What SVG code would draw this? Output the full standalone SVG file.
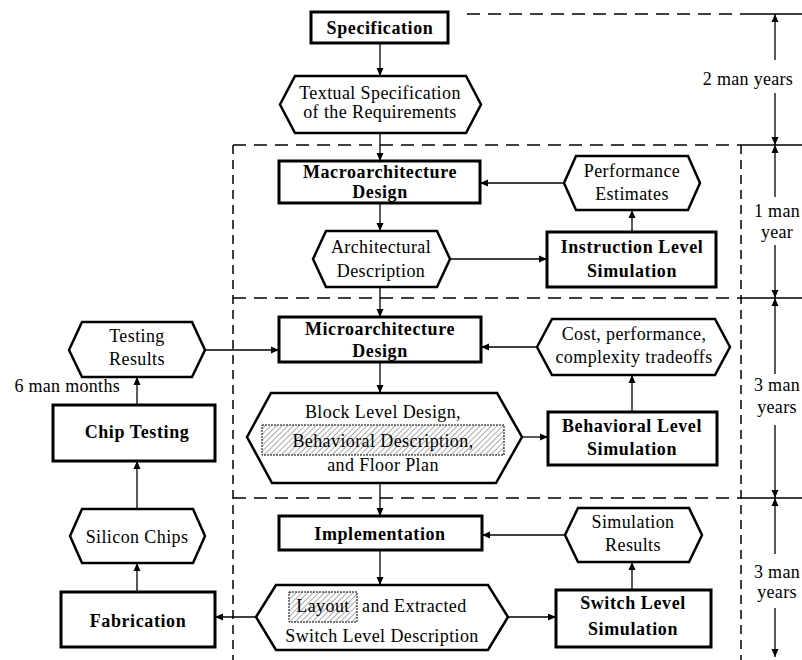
<svg xmlns="http://www.w3.org/2000/svg" width="802" height="660" viewBox="0 0 802 660">
<defs>
<marker id="ah" markerWidth="8" markerHeight="8" refX="8" refY="4" orient="auto" markerUnits="userSpaceOnUse"><path d="M0,0.5 L8,4 L0,7.5 Z" fill="#000"/></marker>
<pattern id="hatch" width="4" height="4" patternUnits="userSpaceOnUse" patternTransform="rotate(45)"><rect width="4" height="4" fill="#fff"/><line x1="0" y1="0" x2="0" y2="4" stroke="#555" stroke-width="1"/></pattern>
<style>
.box{fill:#fff;stroke:#000;stroke-width:3}
.hex{fill:#fff;stroke:#000;stroke-width:2.5;stroke-linejoin:miter}
.bt{font-family:"Liberation Serif","Times New Roman",serif;font-weight:bold;font-size:18px;letter-spacing:0.6px;text-anchor:middle;fill:#000}
.ht{font-family:"Liberation Serif","Times New Roman",serif;font-size:18px;letter-spacing:0.4px;text-anchor:middle;fill:#000}
.lt{font-family:"Liberation Serif","Times New Roman",serif;font-size:18px;letter-spacing:0.3px;text-anchor:middle;fill:#000}
.c{stroke:#000;stroke-width:1.3;fill:none;marker-end:url(#ah)}
.d{stroke:#000;stroke-width:1.5;stroke-dasharray:13 8;fill:none}
.dv{stroke:#000;stroke-width:1.5;stroke-dasharray:9 6;fill:none}
.s{stroke:#000;stroke-width:1.3;fill:none}
</style>
</defs>

<g id="phases">
<path class="d" d="M467,14 H741"/><path class="s" d="M741,14 H802"/>
<path class="d" d="M233,145 H741"/><path class="s" d="M741,145 H802"/>
<path class="d" d="M233,298 H741"/><path class="s" d="M741,298 H802"/>
<path class="d" d="M233,498 H741"/><path class="s" d="M741,498 H802"/>
<path class="dv" d="M233,145 V660"/>
<path class="dv" d="M741,145 V660"/>
</g>

<g id="effort">
<path class="c" d="M775,60 V14"/><path class="c" d="M775,93 V145"/>
<text class="lt" x="748" y="85">2 man years</text>
<path class="c" d="M775,197 V145"/><path class="c" d="M775,245 V298"/>
<text class="lt" x="777" y="217">1 man</text><text class="lt" x="777" y="238">year</text>
<path class="c" d="M775,374 V298"/><path class="c" d="M775,425 V498"/>
<text class="lt" x="777" y="391">3 man</text><text class="lt" x="777" y="413">years</text>
<path class="c" d="M775,554 V498"/><path class="c" d="M775,608 V657"/>
<text class="lt" x="777" y="578">3 man</text><text class="lt" x="777" y="598">years</text>
<text class="lt" x="120" y="392" style="text-anchor:end">6 man months</text>
</g>

<g id="connectors">
<path class="c" d="M380,43 V76"/>
<path class="c" d="M380,133 V161"/>
<path class="c" d="M380,203 V231"/>
<path class="c" d="M450,259 H547"/>
<path class="c" d="M632,232 V210"/>
<path class="c" d="M564,183 H480"/>
<path class="c" d="M380,287 V317"/>
<path class="c" d="M537,347 H481"/>
<path class="c" d="M632,412 V375"/>
<path class="c" d="M380,362 V393"/>
<path class="c" d="M522,437 H548"/>
<path class="c" d="M380,483 V516"/>
<path class="c" d="M565,535 H482"/>
<path class="c" d="M632,590 V562"/>
<path class="c" d="M380,550 V585"/>
<path class="c" d="M508,617 H556"/>
<path class="c" d="M256,617 H215"/>
<path class="c" d="M137,592 V563"/>
<path class="c" d="M137,509 V461"/>
<path class="c" d="M137,405 V377"/>
<path class="c" d="M205,350 H279"/>
</g>

<g id="specification">
<rect class="box" x="311" y="12" width="137" height="31"/>
<text class="bt" x="380" y="34">Specification</text>
</g>

<g id="textual-spec">
<polygon class="hex" points="280,104.5 295,76 466,76 481,104.5 466,133 295,133"/>
<text class="ht" x="380" y="99">Textual Specification</text>
<text class="ht" x="380" y="118">of the Requirements</text>
</g>

<g id="macroarchitecture">
<rect class="box" x="279" y="161" width="201" height="42"/>
<text class="bt" x="380" y="178">Macroarchitecture</text>
<text class="bt" x="380" y="198">Design</text>
</g>

<g id="performance-estimates">
<polygon class="hex" points="564,183 576,156 688,156 700,183 688,210 576,210"/>
<text class="ht" x="632" y="177">Performance</text>
<text class="ht" x="632" y="200">Estimates</text>
</g>

<g id="architectural-description">
<polygon class="hex" points="313,259 326,231 437,231 450,259 437,287 326,287"/>
<text class="ht" x="381" y="253">Architectural</text>
<text class="ht" x="381" y="277">Description</text>
</g>

<g id="instruction-level-simulation">
<rect class="box" x="547" y="232" width="169" height="55"/>
<text class="bt" x="632" y="253">Instruction Level</text>
<text class="bt" x="632" y="277">Simulation</text>
</g>

<g id="microarchitecture">
<rect class="box" x="279" y="317" width="202" height="45"/>
<text class="bt" x="380" y="335">Microarchitecture</text>
<text class="bt" x="380" y="357">Design</text>
</g>

<g id="cost-tradeoffs">
<polygon class="hex" points="537,347 552,319 715,319 730,347 715,375 552,375"/>
<text class="ht" x="634" y="340">Cost, performance,</text>
<text class="ht" x="634" y="363">complexity tradeoffs</text>
</g>

<g id="block-level-design">
<polygon class="hex" points="247,437 271,393 497,393 522,437 496,483 272,483"/>
<rect x="262" y="425" width="242" height="30" fill="url(#hatch)" stroke="#000" stroke-width="1" stroke-dasharray="2 1"/>
<text class="ht" x="383" y="418">Block Level Design,</text>
<text class="ht" x="383" y="447">Behavioral Description,</text>
<text class="ht" x="383" y="471">and Floor Plan</text>
</g>

<g id="behavioral-level-simulation">
<rect class="box" x="548" y="412" width="169" height="53"/>
<text class="bt" x="632" y="432">Behavioral Level</text>
<text class="bt" x="632" y="455">Simulation</text>
</g>

<g id="testing-results">
<polygon class="hex" points="69,350 82,322 192,322 205,350 192,377 82,377"/>
<text class="ht" x="137" y="342">Testing</text>
<text class="ht" x="137" y="365">Results</text>
</g>

<g id="chip-testing">
<rect class="box" x="53" y="405" width="162" height="56"/>
<text class="bt" x="137" y="438">Chip Testing</text>
</g>

<g id="silicon-chips">
<polygon class="hex" points="70,536 82,509 193,509 205,536 193,563 82,563"/>
<text class="ht" x="137" y="543">Silicon Chips</text>
</g>

<g id="fabrication">
<rect class="box" x="61" y="592" width="154" height="55"/>
<text class="bt" x="138" y="627">Fabrication</text>
</g>

<g id="implementation">
<rect class="box" x="279" y="516" width="203" height="34"/>
<text class="bt" x="380" y="540">Implementation</text>
</g>

<g id="simulation-results">
<polygon class="hex" points="565,535 578,508 689,508 702,535 689,562 578,562"/>
<text class="ht" x="633" y="528">Simulation</text>
<text class="ht" x="633" y="551">Results</text>
</g>

<g id="layout">
<polygon class="hex" points="256,617 276,585 488,585 508,617 488,650 276,650"/>
<rect x="289" y="592" width="68" height="30" fill="url(#hatch)" stroke="#000" stroke-width="1" stroke-dasharray="2 1"/>
<text class="ht" x="323" y="612">Layout</text>
<text class="ht" x="362" y="612" style="text-anchor:start">and Extracted</text>
<text class="ht" x="382" y="642">Switch Level Description</text>
</g>

<g id="switch-level-simulation">
<rect class="box" x="556" y="590" width="155" height="57"/>
<text class="bt" x="633" y="609">Switch Level</text>
<text class="bt" x="633" y="635">Simulation</text>
</g>
</svg>
